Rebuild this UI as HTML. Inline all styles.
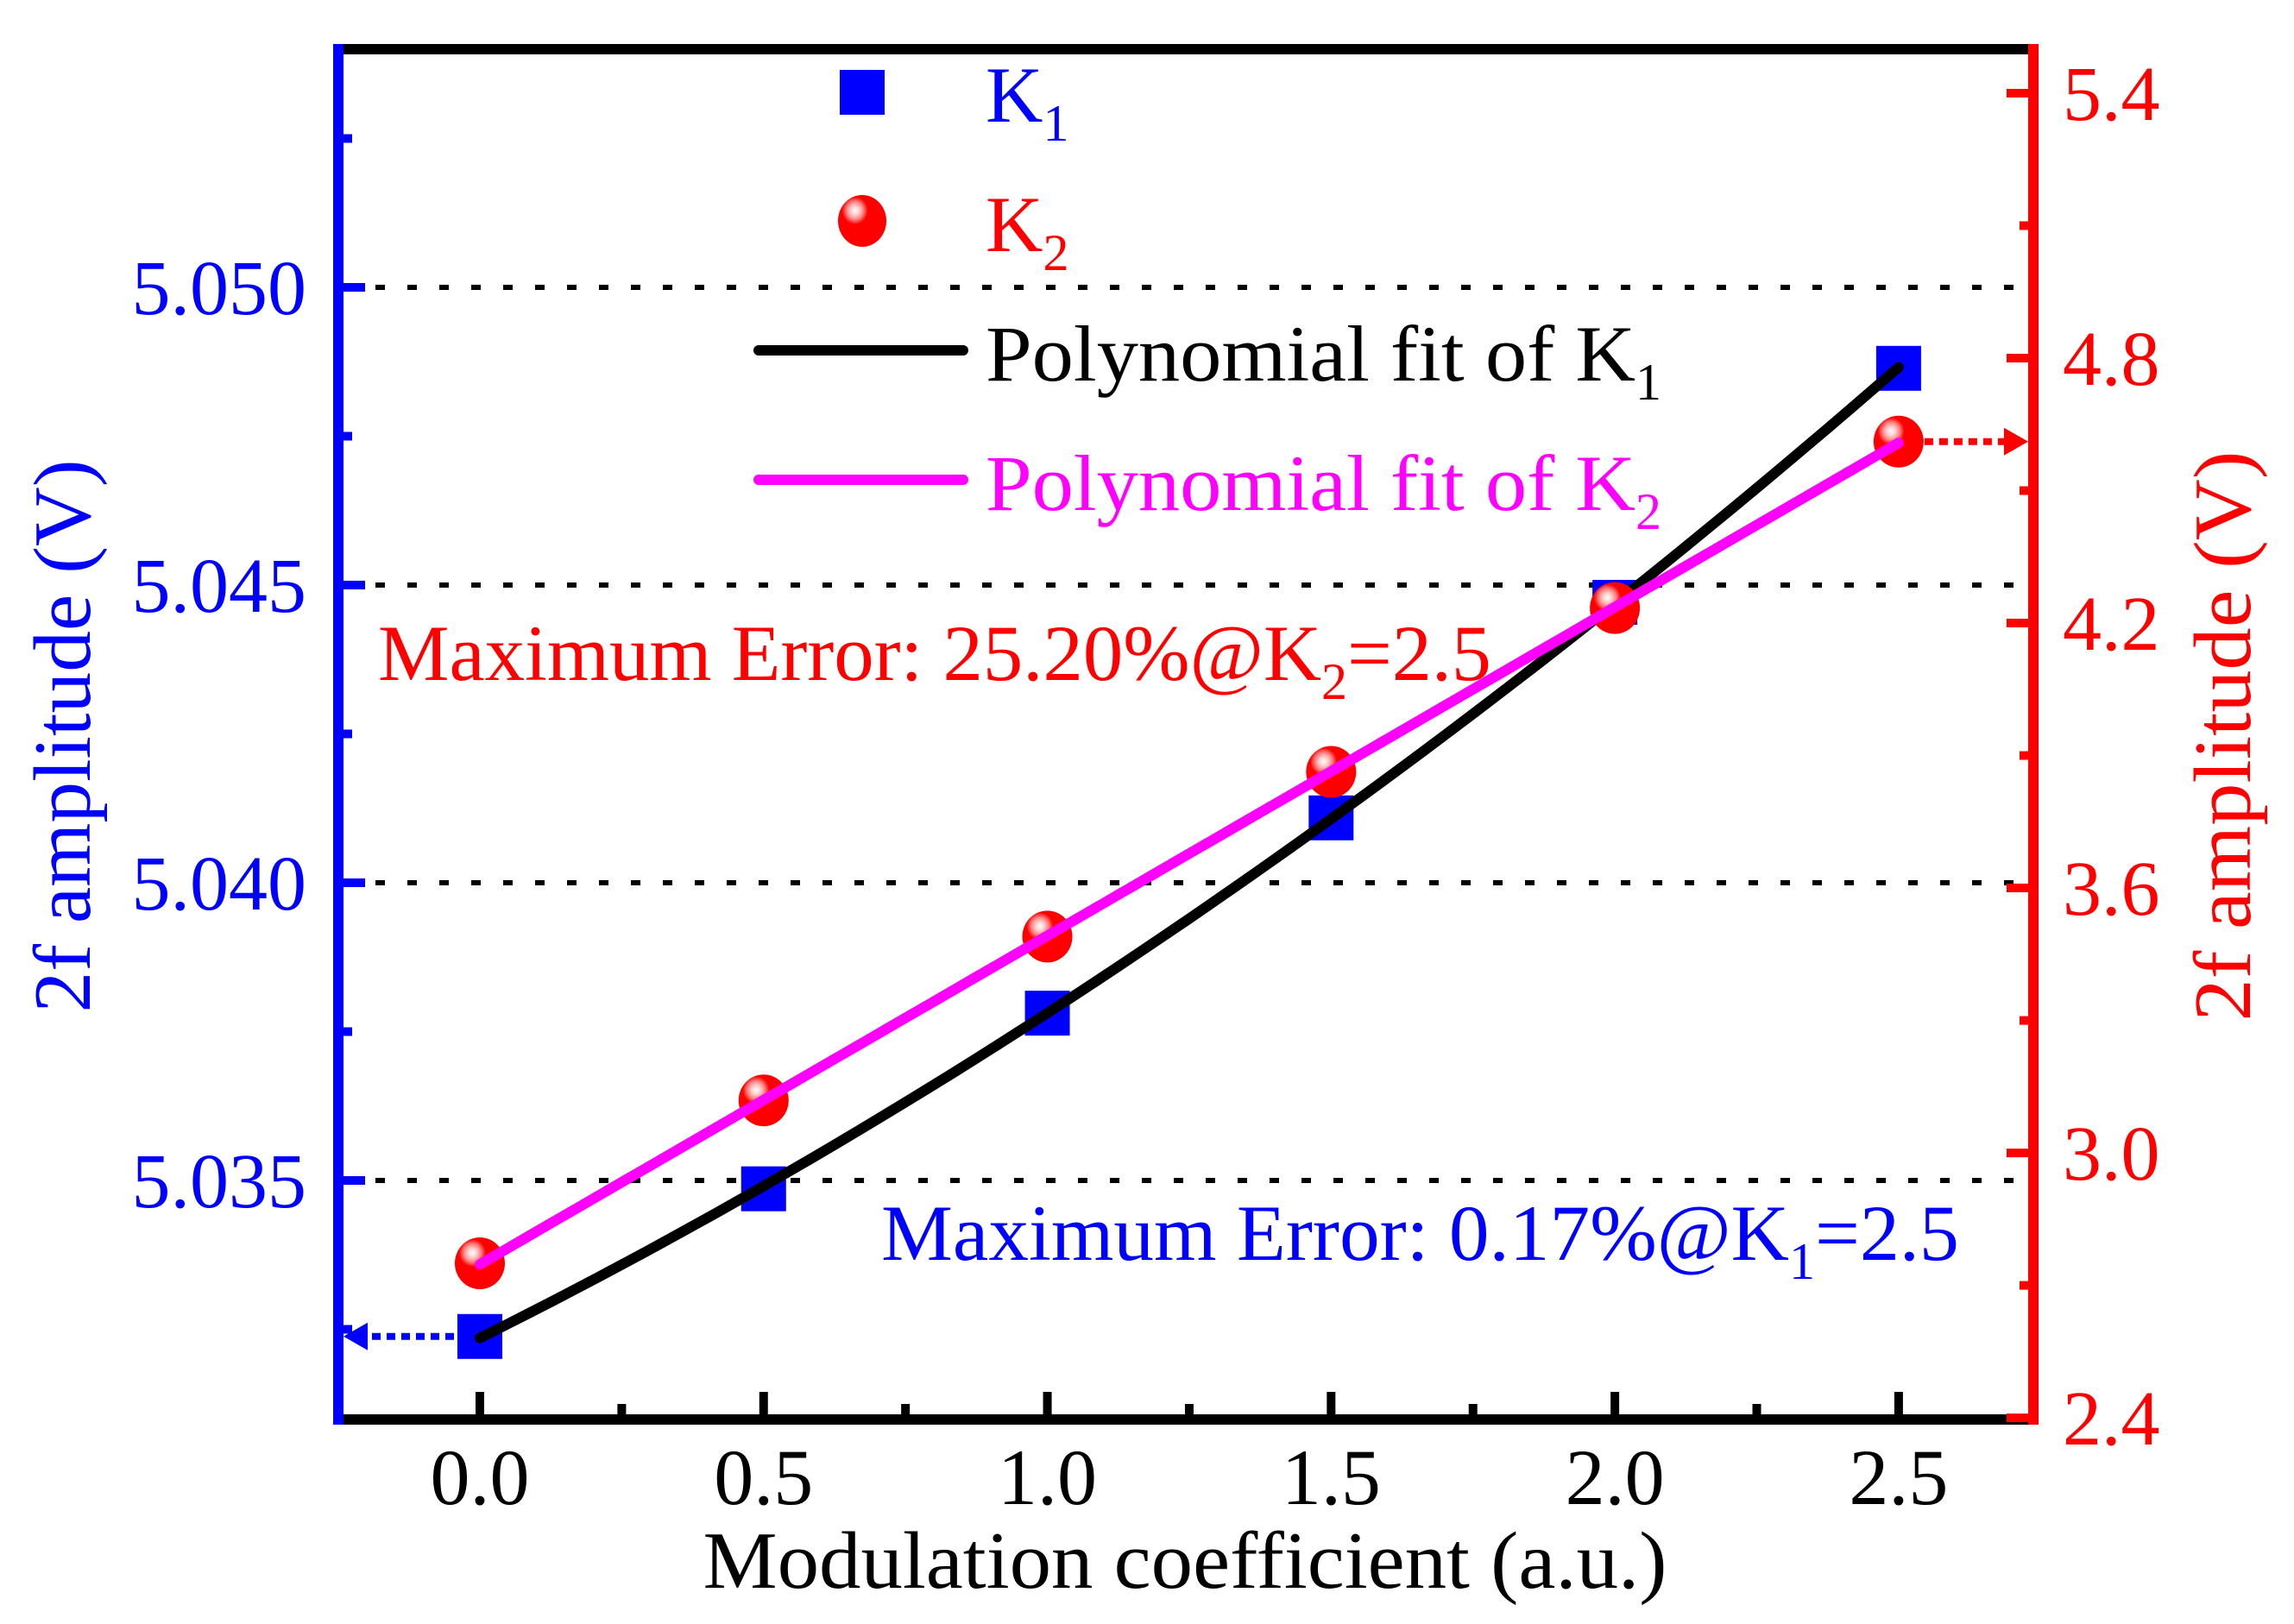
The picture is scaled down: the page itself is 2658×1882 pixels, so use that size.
<!DOCTYPE html>
<html><head><meta charset="utf-8"><style>
html,body{margin:0;padding:0;background:#fff}
svg{display:block}
text{font-family:"Liberation Serif",serif}
</style></head><body>
<svg id="chart" width="2658" height="1882" viewBox="0 0 2658 1882" xmlns="http://www.w3.org/2000/svg">
<defs>
<radialGradient id="ballGrad" cx="0.35" cy="0.3" r="0.7">
<stop offset="0" stop-color="#ffffff"/>
<stop offset="0.12" stop-color="#ffd0d0"/>
<stop offset="0.25" stop-color="#ff8080"/>
<stop offset="0.38" stop-color="#ff0000"/>
<stop offset="1" stop-color="#ff0000"/>
</radialGradient>
</defs>
<g id="grid"></g>
<g id="fits"></g>
<g id="marks"></g>
<g id="axes"></g>
<g id="legend">
  <rect x="973" y="81" width="52" height="52" fill="#0000ff"/>
  <text x="1142" y="141" font-size="92" fill="#0000ff">K<tspan font-size="60" dy="22">1</tspan></text>
  <ellipse cx="999" cy="256" rx="28" ry="30" fill="url(#ballGrad)"/>
  <text x="1142" y="291" font-size="92" fill="#ff0000">K<tspan font-size="60" dy="22">2</tspan></text>
  <line x1="879" y1="406" x2="1116" y2="406" stroke="#000" stroke-width="12" stroke-linecap="round"/>
  <text x="1142" y="441" font-size="92" fill="#000"><tspan textLength="753" lengthAdjust="spacingAndGlyphs">Polynomial fit of K</tspan><tspan font-size="60" dy="22">1</tspan></text>
  <line x1="879" y1="556" x2="1116" y2="556" stroke="#ff00ff" stroke-width="12" stroke-linecap="round"/>
  <text x="1142" y="591" font-size="92" fill="#ff00ff"><tspan textLength="753" lengthAdjust="spacingAndGlyphs">Polynomial fit of K</tspan><tspan font-size="60" dy="22">2</tspan></text>
</g>
<text x="438" y="788" font-size="92" fill="#ff0000"><tspan textLength="1093" lengthAdjust="spacingAndGlyphs">Maximum Error: 25.20%@K</tspan><tspan font-size="60" dy="22">2</tspan><tspan dy="-22">=2.5</tspan></text>
<text x="1021" y="1460" font-size="92" fill="#0000ff"><tspan textLength="1052" lengthAdjust="spacingAndGlyphs">Maximum Error: 0.17%@K</tspan><tspan font-size="60" dy="22">1</tspan><tspan dy="-22">=2.5</tspan></text>
<text x="1373" y="1840" font-size="94" text-anchor="middle" fill="#000" textLength="1117" lengthAdjust="spacingAndGlyphs">Modulation coefficient (a.u.)</text>
<text transform="translate(104,853) rotate(-90)" font-size="94" text-anchor="middle" fill="#0000ff" textLength="641" lengthAdjust="spacingAndGlyphs">2f amplitude (V)</text>
<text transform="translate(2607,853) rotate(-90)" font-size="94" text-anchor="middle" fill="#ff0000" textLength="661" lengthAdjust="spacingAndGlyphs">2f amplitude (V)</text>
</svg>
<script>
const categories = [0, 0.5, 1.0, 1.5, 2.0, 2.5];
const k1Values = [5.03238, 5.03486, 5.03781, 5.04109, 5.04471, 5.04864];
const k2Values = [2.750, 3.119, 3.490, 3.863, 4.234, 4.611];
const xTickLabels = ["0.0", "0.5", "1.0", "1.5", "2.0", "2.5"];
const yLeftTickLabels = ["5.035", "5.040", "5.045", "5.050"];
const yRightTickLabels = ["2.4", "3.0", "3.6", "4.2", "4.8", "5.4"];

const NS = "http://www.w3.org/2000/svg";
const X0 = 392, X1 = 2356, Y0 = 57, Y1 = 1645;
const xMin = -0.2494, xMax = 2.7374;
function xs(v){ return X0 + (v - xMin) / (xMax - xMin) * (X1 - X0); }
function yl(v){ return 333 + (5.050 - v) / 0.005 * 345; }
function yr(v){ return 108 + (5.4 - v) * 511.7; }
function mk(tag, attrs, parent){
  const e = document.createElementNS(NS, tag);
  for (const k in attrs) e.setAttribute(k, attrs[k]);
  parent.appendChild(e);
  return e;
}
const gridG = document.getElementById('grid');
const axesG = document.getElementById('axes');
const fitsG = document.getElementById('fits');
const marksG = document.getElementById('marks');

yLeftTickLabels.forEach(function(t){
  const y = yl(parseFloat(t));
  const g = mk('line', {x1: X0 + 6, x2: X1 - 6, y1: y, y2: y, stroke: '#000', 'stroke-width': 6, 'stroke-dasharray': '11 26'}, gridG);
  
  
});

function polyfit(xv, yv, deg){
  const n = deg + 1;
  const A = [], b = [];
  for (let i = 0; i < n; i++){ A.push(new Array(n).fill(0)); b.push(0); }
  for (let k = 0; k < xv.length; k++){
    for (let i = 0; i < n; i++){
      b[i] += yv[k] * Math.pow(xv[k], i);
      for (let j = 0; j < n; j++) A[i][j] += Math.pow(xv[k], i + j);
    }
  }
  for (let i = 0; i < n; i++){
    for (let r = i + 1; r < n; r++){
      const f = A[r][i] / A[i][i];
      for (let c = i; c < n; c++) A[r][c] -= f * A[i][c];
      b[r] -= f * b[i];
    }
  }
  const c = new Array(n).fill(0);
  for (let i = n - 1; i >= 0; i--){
    let s = b[i];
    for (let j = i + 1; j < n; j++) s -= A[i][j] * c[j];
    c[i] = s / A[i][i];
  }
  return c;
}
function evalPoly(c, x){ let s = 0; for (let i = 0; i < c.length; i++) s += c[i] * Math.pow(x, i); return s; }
const c1 = polyfit(categories, k1Values, 2);
const c2 = polyfit(categories, k2Values, 1);
const xa = categories[0], xb = categories[categories.length - 1];
let p1 = [], p2 = [];
for (let i = 0; i <= 60; i++){
  const x = xa + (xb - xa) * i / 60;
  p1.push(xs(x).toFixed(1) + ',' + yl(evalPoly(c1, x)).toFixed(1));
  p2.push(xs(x).toFixed(1) + ',' + yr(evalPoly(c2, x)).toFixed(1));
}

const firstY = yl(k1Values[0]);
const arrL = mk('line', {x1: xs(categories[0]) - 30, x2: X0 + 30, y1: firstY, y2: firstY, stroke: '#0000ff', 'stroke-width': 8, 'stroke-dasharray': '10 7'}, axesG);


const ahL = mk('polygon', {points: (X0+6)+','+firstY+' '+(X0+34)+','+(firstY-16)+' '+(X0+34)+','+(firstY+16), fill: '#0000ff'}, axesG);


const lastY = yr(k2Values[k2Values.length - 1]);
const arrR = mk('line', {x1: xs(xb) + 30, x2: X1 - 30, y1: lastY, y2: lastY, stroke: '#ff0000', 'stroke-width': 8, 'stroke-dasharray': '10 7'}, axesG);


const ahR = mk('polygon', {points: (X1-6)+','+lastY+' '+(X1-34)+','+(lastY-16)+' '+(X1-34)+','+(lastY+16), fill: '#ff0000'}, axesG);



categories.forEach(function(c, i){
  const r = mk('rect', {x: xs(c) - 26, y: yl(k1Values[i]) - 26, width: 52, height: 52, fill: '#0000ff'}, marksG);
  
  
});
const f1 = mk('polyline', {points: p1.join(' '), fill: 'none', stroke: '#000', 'stroke-width': 12, 'stroke-linecap': 'round'}, marksG);


categories.forEach(function(c, i){
  const e = mk('ellipse', {cx: xs(c), cy: yr(k2Values[i]), rx: 29, ry: 30, fill: 'url(#ballGrad)'}, marksG);
  
  
});
const f2 = mk('polyline', {points: p2.join(' '), fill: 'none', stroke: '#ff00ff', 'stroke-width': 12, 'stroke-linecap': 'round'}, marksG);



const topBorder = mk('line', {x1: X0, x2: X1, y1: Y0, y2: Y0, stroke: '#000', 'stroke-width': 12}, axesG);


const bottomAxis = mk('line', {x1: X0, x2: X1, y1: Y1, y2: Y1, stroke: '#000', 'stroke-width': 12}, axesG);


const leftAxis = mk('line', {x1: X0, x2: X0, y1: Y0 - 6, y2: Y1 + 6, stroke: '#0000ff', 'stroke-width': 12}, axesG);


const rightAxis = mk('line', {x1: X1, x2: X1, y1: Y0 - 6, y2: Y1 + 6, stroke: '#ff0000', 'stroke-width': 12}, axesG);



xTickLabels.forEach(function(t){
  const v = parseFloat(t), x = xs(v);
  const tk = mk('line', {x1: x, x2: x, y1: Y1 - 6, y2: Y1 - 32, stroke: '#000', 'stroke-width': 10}, axesG);
  
  
  const tx = mk('text', {x: x, y: 1743, 'font-size': 92, 'text-anchor': 'middle', fill: '#000'}, axesG);
  tx.textContent = t;
  
  
});
for (let v = -0.25; v < 2.75; v += 0.5){
  if (v < xMin) continue;
  const x = xs(v);
  const m = mk('line', {x1: x, x2: x, y1: Y1 - 6, y2: Y1 - 18, stroke: '#000', 'stroke-width': 10}, axesG);
  
  
}
yLeftTickLabels.forEach(function(t){
  const y = yl(parseFloat(t));
  const tk = mk('line', {x1: X0 + 6, x2: X0 + 31, y1: y, y2: y, stroke: '#0000ff', 'stroke-width': 10}, axesG);
  
  
  const tx = mk('text', {x: 355, y: y + 31, 'font-size': 90, 'text-anchor': 'end', fill: '#0000ff'}, axesG);
  tx.textContent = t;
  
  
});
[5.0325, 5.0375, 5.0425, 5.0475, 5.0525].forEach(function(v){
  const y = yl(v);
  const m = mk('line', {x1: X0 + 6, x2: X0 + 16, y1: y, y2: y, stroke: '#0000ff', 'stroke-width': 10}, axesG);
  
  
});
yRightTickLabels.forEach(function(t){
  const y = yr(parseFloat(t));
  const tk = mk('line', {x1: X1 - 6, x2: X1 - 31, y1: y, y2: y, stroke: '#ff0000', 'stroke-width': 10}, axesG);
  
  
  const tx = mk('text', {x: 2390, y: y + 31, 'font-size': 90, fill: '#ff0000'}, axesG);
  tx.textContent = t;
  
  
});
[2.7, 3.3, 3.9, 4.5, 5.1].forEach(function(v){
  const y = yr(v);
  const m = mk('line', {x1: X1 - 6, x2: X1 - 16, y1: y, y2: y, stroke: '#ff0000', 'stroke-width': 10}, axesG);
  
  
});
</script>
</body></html>
